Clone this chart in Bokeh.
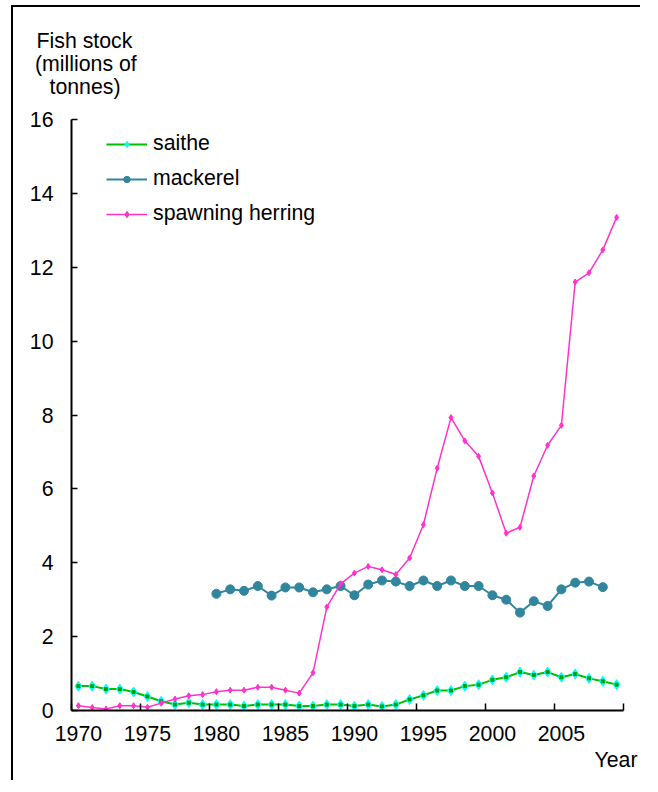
from bokeh.plotting import figure
from bokeh.models import FixedTicker, Legend, LegendItem, Title, Range1d, ColumnDataSource
from bokeh.embed import file_html
from bokeh.resources import INLINE

# ---- data ----
years = list(range(1970, 2010))
saithe = [0.66, 0.66, 0.58, 0.58, 0.50, 0.38, 0.25, 0.16, 0.21, 0.16,
          0.16, 0.16, 0.12, 0.16, 0.16, 0.16, 0.12, 0.12, 0.16, 0.16,
          0.12, 0.16, 0.11, 0.16, 0.30, 0.41, 0.54, 0.54, 0.66, 0.70,
          0.83, 0.90, 1.04, 0.96, 1.04, 0.90, 0.99, 0.87, 0.79, 0.70]
mackerel_years = list(range(1980, 2009))
mackerel = [3.16, 3.28, 3.24, 3.37, 3.11, 3.33, 3.33, 3.20, 3.28, 3.37,
            3.12, 3.41, 3.52, 3.49, 3.37, 3.52, 3.37, 3.52, 3.37, 3.37,
            3.12, 3.00, 2.65, 2.96, 2.83, 3.28, 3.46, 3.49, 3.34]
herring = [0.13, 0.08, 0.04, 0.13, 0.13, 0.09, 0.20, 0.31, 0.40, 0.43,
           0.51, 0.55, 0.55, 0.63, 0.63, 0.55, 0.47, 1.02, 2.80, 3.43,
           3.72, 3.90, 3.81, 3.68, 4.13, 5.03, 6.56, 7.93, 7.30, 6.88,
           5.89, 4.80, 4.96, 6.35, 7.18, 7.72, 11.60, 11.85, 12.47, 13.35]
series_names = ["saithe", "mackerel", "spawning herring"]
x_tick_labels = [1970, 1975, 1980, 1985, 1990, 1995, 2000, 2005]
y_ticks = [0, 2, 4, 6, 8, 10, 12, 14, 16]
y_title_lines = ["Fish stock", "(millions of", "tonnes)"]
x_title = "Year"

FONT = "Liberation Sans"
FS = "21.3px"
SAITHE_LINE = "#00C000"
SAITHE_MARK = "#00FFFF"
MACK = "#31869E"
HERR = "#FF33CC"

p = figure(width=640, height=780, output_backend="svg", toolbar_location=None,
           x_range=Range1d(1969.5, 2009.5), y_range=Range1d(0, 16),
           min_border_left=71, min_border_right=17, min_border_top=119,
           min_border_bottom=70)
# chart frame: left and top edges of the surrounding box
p.styles = {"background": "linear-gradient(#000, #000) 11px 5px / 2px 100% no-repeat, "
                          "linear-gradient(#000, #000) 11px 5px / 100% 2px no-repeat"}
p.outline_line_color = None
p.xgrid.visible = False
p.ygrid.visible = False
p.background_fill_color = "white"
p.border_fill_alpha = 0

src_s = ColumnDataSource(dict(x=years, y=saithe))
src_m = ColumnDataSource(dict(x=mackerel_years, y=mackerel))
src_h = ColumnDataSource(dict(x=years, y=herring))

ls = p.line("x", "y", source=src_s, line_color=SAITHE_LINE, line_width=2)
ms1 = p.scatter("x", "y", source=src_s, marker="diamond", size=10,
                fill_color=SAITHE_MARK, line_color=SAITHE_MARK, line_width=1)
ms2 = p.scatter("x", "y", source=src_s, marker="square", size=3,
                fill_color="#00A000", line_color="#00A000")

lm = p.line("x", "y", source=src_m, line_color=MACK, line_width=2)
mm = p.scatter("x", "y", source=src_m, marker="circle", size=9,
               fill_color=MACK, line_color=MACK)

lh = p.line("x", "y", source=src_h, line_color=HERR, line_width=1.5)
mh = p.scatter("x", "y", source=src_h, marker="diamond", size=6,
               fill_color=HERR, line_color=HERR)

legend = Legend(items=[
    LegendItem(label=series_names[0], renderers=[ls, ms1]),
    LegendItem(label=series_names[1], renderers=[lm, mm]),
    LegendItem(label=series_names[2], renderers=[lh, mh]),
], location=(35, 484))
legend.margin = 0
legend.padding = 0
legend.spacing = 10
legend.glyph_width = 41
legend.glyph_height = 16
legend.label_height = 20
legend.label_standoff = 6
legend.label_text_font = FONT
legend.label_text_font_size = FS
legend.label_text_color = "black"
legend.border_line_alpha = 0
legend.background_fill_alpha = 0
p.add_layout(legend)

# axes
for ax in (p.xaxis, p.yaxis):
    ax.axis_line_color = "black"
    ax.axis_line_width = 2
    ax.major_label_text_font = FONT
    ax.major_label_text_font_size = FS
    ax.major_label_text_color = "black"
    ax.major_tick_line_color = "black"
    ax.major_tick_line_width = 1.5
    ax.minor_tick_line_color = "black"
    ax.minor_tick_line_width = 1.5

p.xaxis.ticker = FixedTicker(ticks=x_tick_labels,
                             minor_ticks=[t - 0.5 for t in x_tick_labels] + [2009.5])
p.xaxis.major_tick_in = 0
p.xaxis.major_tick_out = 0
p.xaxis.minor_tick_in = 7
p.xaxis.minor_tick_out = 0
p.xaxis.major_label_standoff = 15

p.yaxis.ticker = FixedTicker(ticks=y_ticks)
p.yaxis.major_tick_in = 6
p.yaxis.major_tick_out = 0
p.yaxis.minor_tick_line_color = None
p.yaxis.major_label_standoff = 18

# y-axis title: three lines stacked above the frame (first added = closest)
p.add_layout(Title(text=" ", align="left", standoff=19, text_font=FONT,
                   text_font_size="1px"), "above")
title_offsets = [-35, -36.5, -22]
for txt, off in reversed(list(zip(y_title_lines, title_offsets))):
    p.add_layout(Title(text=txt, align="left", offset=off, standoff=-3,
                       text_font=FONT, text_font_size=FS,
                       text_font_style="normal", text_color="black"), "above")

# x-axis title
p.add_layout(Title(text=x_title, align="right", offset=-14, standoff=5,
                   text_font=FONT, text_font_size=FS,
                   text_font_style="normal", text_color="black"), "below")

open("out.html", "w").write(file_html(p, INLINE))
